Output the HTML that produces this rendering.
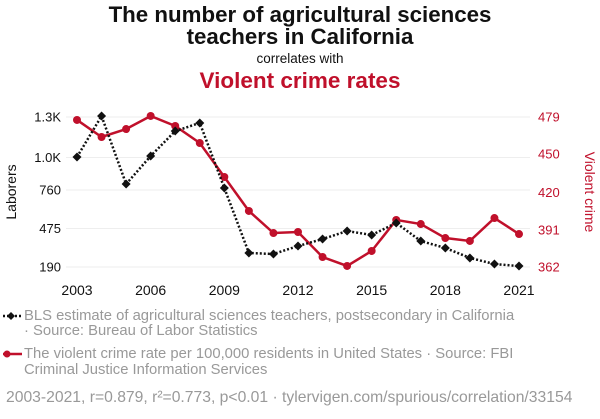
<!DOCTYPE html>
<html><head><meta charset="utf-8"><style>
body{margin:0;background:#fff;font-family:"Liberation Sans",sans-serif;}
svg text{font-family:"Liberation Sans",sans-serif;}
</style></head><body>
<svg id="c" width="600" height="414" viewBox="0 0 600 414" xmlns="http://www.w3.org/2000/svg">
<text x="300" y="22" text-anchor="middle" font-size="22.3" font-weight="bold" fill="#111">The number of agricultural sciences</text>
<text x="300" y="44" text-anchor="middle" font-size="22.3" font-weight="bold" fill="#111">teachers in California</text>
<text x="300" y="63" text-anchor="middle" font-size="13.5" fill="#111">correlates with</text>
<text x="300" y="88" text-anchor="middle" font-size="22.5" font-weight="bold" fill="#c0102b">Violent crime rates</text>
<text transform="translate(16,192) rotate(-90)" text-anchor="middle" font-size="14" fill="#111">Laborers</text>
<text transform="translate(585,192) rotate(90)" text-anchor="middle" font-size="14" fill="#c0102b">Violent crime</text>
<g id="grid"></g><g id="axes"></g><g id="series"></g>
<g font-size="14.8" fill="#999">
<line x1="3" y1="316" x2="22" y2="316" stroke="#111" stroke-width="2.5" stroke-dasharray="2,2"/>
<path d="M7 316 l4 -4 l4 4 l-4 4z" fill="#111"/>
<text x="24" y="320">BLS estimate of agricultural sciences teachers, postsecondary in California</text>
<text x="24" y="335">· Source: Bureau of Labor Statistics</text>
<line x1="3" y1="354" x2="22" y2="354" stroke="#c0102b" stroke-width="2.5"/>
<circle cx="7" cy="354" r="3.5" fill="#c0102b"/>
<text x="24" y="358">The violent crime rate per 100,000 residents in United States · Source: FBI</text>
<text x="24" y="374">Criminal Justice Information Services</text>
<text x="6" y="402" font-size="15.7">2003-2021, r=0.879, r²=0.773, p&lt;0.01 · tylervigen.com/spurious/correlation/33154</text>
</g>
</svg>
<script>
const years=[2003,2004,2005,2006,2007,2008,2009,2010,2011,2012,2013,2014,2015,2016,2017,2018,2019,2020,2021];
const teachers=[1004,1307,804,1011,1196,1256,775,294,286,345,397,456,427,516,382,331,257,212,197];
const crime=[476.7,463.4,469.6,479.8,472,458.7,432.2,405.7,388.5,389.3,369.8,362.8,374.5,398.7,395.5,384.6,382.3,400.2,387.7];
const leftTicks=[190,475,760,1000,1300];
const leftTickLabels=["190","475","760","1.0K","1.3K"];
const rightTicks=[362,391,420,450,479];
const xTicks=[2003,2006,2009,2012,2015,2018,2021];
const NS="http://www.w3.org/2000/svg";
const x=v=>77+(v-2003)*(519-77)/18;
const yl=v=>267-(v-190)*150/1110;
const yr=v=>267-(v-362)*150/117;
function mk(t,a,p){const e=document.createElementNS(NS,t);for(const k in a)e.setAttribute(k,a[k]);p.appendChild(e);return e;}
const grid=document.getElementById('grid'),axes=document.getElementById('axes'),ser=document.getElementById('series');
leftTicks.forEach((v,i)=>{const y=yl(v);
 const g=mk('line',{x1:66,x2:530,y1:y,y2:y,stroke:'#eee','stroke-width':1},grid);
 
 const t=mk('text',{x:61,y:y+4.5,'text-anchor':'end','font-size':13,fill:'#111'},axes);t.textContent=leftTickLabels[i];
 });
rightTicks.forEach(v=>{const t=mk('text',{x:538,y:yr(v)+4.5,'font-size':13,fill:'#c0102b'},axes);t.textContent=v;
 });
xTicks.forEach(v=>{const t=mk('text',{x:x(v),y:295,'text-anchor':'middle','font-size':14,fill:'#111'},axes);t.textContent=v;
 });
const rl=mk('polyline',{points:years.map((y,i)=>x(y)+','+yr(crime[i])).join(' '),fill:'none',stroke:'#c0102b','stroke-width':2.5},ser);

crime.forEach((v,i)=>{const c=mk('circle',{cx:x(years[i]),cy:yr(v),r:4,fill:'#c0102b'},ser);
 });
const bl=mk('polyline',{points:years.map((y,i)=>x(y)+','+yl(teachers[i])).join(' '),fill:'none',stroke:'#111','stroke-width':2.5,'stroke-dasharray':'2,2'},ser);

teachers.forEach((v,i)=>{const cx=x(years[i]),cy=yl(v);const p=mk('path',{d:`M${cx-4.5} ${cy} L${cx} ${cy-4.5} L${cx+4.5} ${cy} L${cx} ${cy+4.5}Z`,fill:'#111'},ser);
 });
</script>
</body></html>
